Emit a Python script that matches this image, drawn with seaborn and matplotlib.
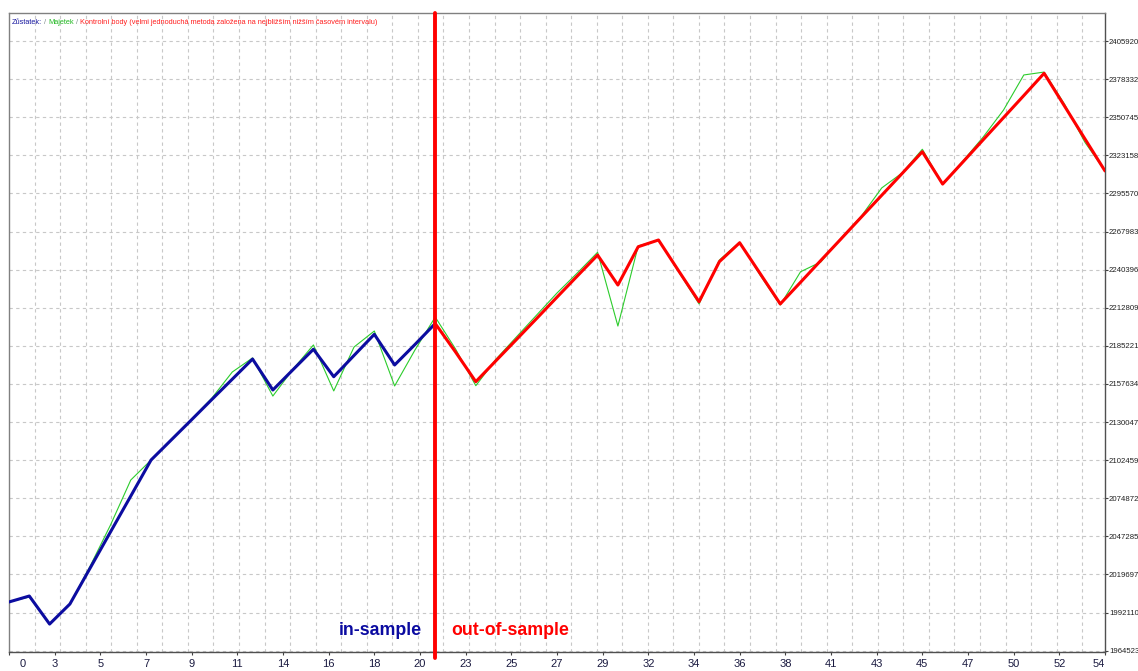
import matplotlib
matplotlib.use("Agg")
import matplotlib.pyplot as plt
import seaborn as sns
from matplotlib import font_manager as fm

# ---------------- data ----------------
trades = list(range(55))

balance = [1999800, 2004100, 1983800, 1998300, 2024400, 2050500, 2076500, 2102600,
           2117200, 2131800, 2146500, 2161100, 2175700, 2153300, 2168100, 2182800,
           2162900, 2178300, 2193600, 2171400, 2186200, 2201400, 2180800, 2159300,
           2174600, 2189800, 2205100, 2220500, 2235800, 2251000, 2229300, 2257000,
           2261900, 2239400, 2217200, 2246200, 2259900, 2237800, 2215600, 2231300,
           2247100, 2262800, 2278600, 2294300, 2310000, 2325800, 2302400, 2318400,
           2334500, 2350500, 2366500, 2382600, 2359000, 2335400, 2311900]

equity = [1999800, 2003400, 1983800, 1998300, 2025800, 2055500, 2088100, 2102600,
          2117800, 2132300, 2147500, 2166300, 2176500, 2148900, 2168500, 2185900,
          2152600, 2184400, 2196000, 2156200, 2182200, 2206100, 2183000, 2156400,
          2175700, 2191700, 2207600, 2223500, 2238000, 2253000, 2199600, 2257600,
          2261900, 2238700, 2215600, 2247400, 2260400, 2236600, 2214800, 2238900,
          2246000, 2263300, 2279300, 2299600, 2310400, 2327600, 2302400, 2319100,
          2336500, 2356000, 2381400, 2383500, 2360400, 2332900, 2311900]

split_trade = 21

ytick_values = [1964523, 1992110, 2019697, 2047285, 2074872, 2102459, 2130047,
                2157634, 2185221, 2212809, 2240396, 2267983, 2295570, 2323158,
                2350745, 2378332, 2405920]

xtick_labels = ["0", "3", "5", "7", "9", "11", "14", "16", "18", "20", "23", "25",
                "27", "29", "32", "34", "36", "38", "41", "43", "45", "47", "50",
                "52", "54"]

legend_parts = [("Zůstatek:", "#1a1aa0"), (" / ", "#7a8a8a"), ("Majetek", "#22b822"),
                (" / ", "#7a8a8a"),
                ("Kontrolní body (velmi jednoduchá metoda založena na nejbližším nižším časovém intervalu)",
                 "#ff2020")]

# ---------------- fonts ----------------
names = {f.name for f in fm.fontManager.ttflist}


def pick(*cands):
    for n in cands:
        if n in names:
            return n
    return "DejaVu Sans"


SANS = pick("Liberation Sans", "DejaVu Sans")

sns.set_style("white")
plt.rcParams["font.family"] = [SANS, "DejaVu Sans"]

W, H = 1138, 671
fig = plt.figure(figsize=(W / 100, H / 100), dpi=100)
L, R, T, B = 9, 1105, 13, 652
ax = fig.add_axes([L / W, 1 - B / H, (R - L) / W, (B - T) / H])

BLUE = "#0c0ca0"
RED = "#ff0000"
GREEN = "#2ccc2c"
XLAB = "#1a1a40"

# equity (thin green) under balance
sns.lineplot(x=trades, y=equity, ax=ax, color=GREEN, linewidth=0.8, sort=False,
             zorder=2)
sns.lineplot(x=trades[:split_trade + 1], y=balance[:split_trade + 1], ax=ax,
             color=BLUE, linewidth=2.2, sort=False, zorder=3)
sns.lineplot(x=trades[split_trade:], y=balance[split_trade:], ax=ax,
             color=RED, linewidth=2.2, sort=False, zorder=3)

ax.axvline(split_trade, color=RED, linewidth=2.8, ymin=-0.01, ymax=1.0,
           clip_on=False, zorder=5)

ax.set_xlim(0, 54)
ax.set_ylim(1963567, 2426267)

# ticks
step = 54 / (len(xtick_labels) - 1)
xticks = [k * step for k in range(len(xtick_labels))]
ax.set_xticks(xticks)
# first label is drawn separately (shifted right, as in the reference)
ax.set_xticklabels([""] + xtick_labels[1:], fontsize=8, color=XLAB)
ax.annotate(xtick_labels[0], xy=(xticks[0], 0), xycoords=ax.get_xaxis_transform(),
            xytext=(10, -5), textcoords="offset points", ha="center", va="top",
            fontsize=8, color=XLAB, annotation_clip=False)
grid_step = 1.259
ax.set_xticks([n * grid_step for n in range(1, int(54 / grid_step) + 1)], minor=True)
labs = ax.get_xticklabels()
labs[-1].set_horizontalalignment("right")

ax.yaxis.tick_right()
ax.set_yticks(ytick_values)
ax.set_yticklabels([str(v) for v in ytick_values], fontsize=5.6, color="#202020")
ax.tick_params(axis="y", which="major", length=2, pad=0.8, color="#404040",
               right=True, left=False)
ax.tick_params(axis="x", which="major", length=2, pad=3, color="#404040",
               bottom=True)
ax.tick_params(axis="x", which="minor", length=0)

ax.grid(True, which="major", axis="y", color="#c8c8c8", linestyle=(0, (3, 3)),
        linewidth=0.8, zorder=0)
ax.grid(True, which="minor", axis="x", color="#c8c8c8", linestyle=(0, (3, 3)),
        linewidth=0.8, zorder=0)
ax.set_axisbelow(True)

for s in ax.spines.values():
    s.set_visible(True)
    s.set_color("#505050")
    s.set_linewidth(1.0)
ax.spines["left"].set_color("#808080")
ax.spines["top"].set_color("#808080")

ax.set_xlabel("")
ax.set_ylabel("")

# in-sample / out-of-sample labels
xform = ax.get_xaxis_transform()
ax.text(split_trade - 0.65, 0.033, "in-sample", transform=xform, ha="right",
        va="center", fontsize=12.8, fontweight="bold", color="#0a0aa0", zorder=6)
ax.text(split_trade + 0.8, 0.033, "out-of-sample", transform=xform, ha="left",
        va="center", fontsize=12.8, fontweight="bold", color=RED, zorder=6)

# multicolour legend line at the top left
fig.canvas.draw()
renderer = fig.canvas.get_renderer()
xpix = 12
for txt, col in legend_parts:
    t = fig.text(xpix / W, 1 - 22 / H, txt, color=col, fontsize=5.3,
                 ha="left", va="center")
    bb = t.get_window_extent(renderer=renderer)
    xpix = bb.x1

fig.savefig("out.png", dpi=100)
